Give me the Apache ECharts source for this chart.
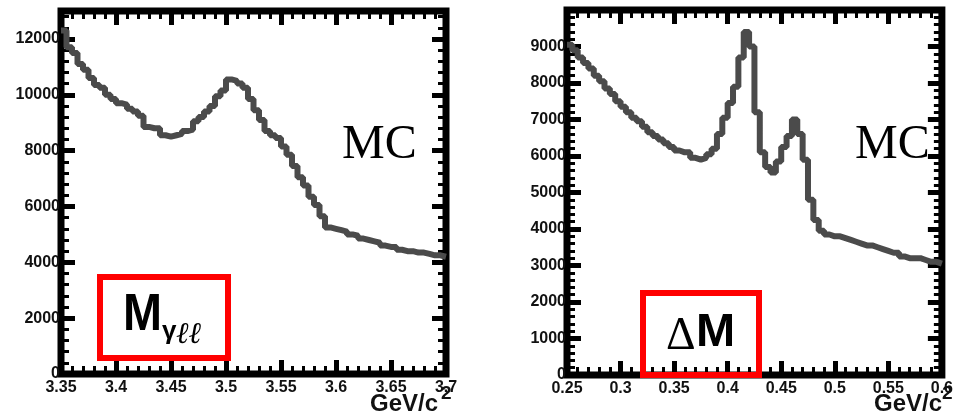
<!DOCTYPE html>
<html><head><meta charset="utf-8">
<script src="https://cdn.jsdelivr.net/npm/echarts@6/dist/echarts.min.js"></script>
<style>html,body{margin:0;padding:0;background:#fff}#c{width:956px;height:416px}</style>
</head><body><div id="c"></div>
<script>
// ---- data ----
const leftXStart = 3.35, leftXEnd = 3.70, leftBinWidth = 0.005;
const leftValues = [
  12300, 11700, 11500, 11100, 10900, 10600, 10350, 10250, 10000, 9850,
  9700, 9650, 9500, 9400, 9250, 8850, 8800, 8800, 8550, 8500,
  8550, 8600, 8700, 8750, 9050, 9200, 9400, 9600, 9950, 10150,
  10550, 10500, 10400, 10250, 9850, 9450, 9100, 8700, 8550, 8450,
  8150, 7850, 7450, 7050, 6750, 6350, 6050, 5650, 5250, 5200,
  5150, 5100, 5000, 4950, 4850, 4800, 4750, 4700, 4600, 4550,
  4550, 4450, 4400, 4400, 4350, 4350, 4300, 4250, 4250, 4200
];
const rightXStart = 0.25, rightXEnd = 0.60, rightBinWidth = 0.005;
const rightValues = [
  9050, 8900, 8700, 8550, 8400, 8200, 8050, 7850, 7700, 7500,
  7350, 7200, 7050, 6950, 6800, 6650, 6550, 6450, 6350, 6250,
  6150, 6100, 6100, 5950, 5900, 5950, 6050, 6200, 6600, 7050,
  7450, 7900, 8700, 9400, 9000, 7200, 6100, 5700, 5550, 5850,
  6250, 6550, 7000, 6600, 5900, 4800, 4250, 3950, 3850, 3800,
  3800, 3750, 3700, 3650, 3600, 3550, 3550, 3500, 3450, 3400,
  3350, 3350, 3250, 3200, 3200, 3200, 3150, 3100, 3100, 3050
];
const leftYMax = 13000, leftYStep = 2000, leftXStep = 0.05;
const rightYMax = 10000, rightYStep = 1000, rightXStep = 0.05;
const panelLabel = 'MC';
const leftBoxMain = 'M', leftBoxSub1 = 'γ', leftBoxSub2 = 'ℓℓ';
const rightBoxDelta = 'Δ', rightBoxMain = 'M';
const unitMain = 'GeV/c', unitSup = '2';

// ---- build ----
function histPoints(start, width, end, vals) {
  const pts = vals.map((v, i) => [+(start + i * width).toFixed(4), v]);
  pts.push([end, vals[vals.length - 1]]);
  return pts;
}
const FONT = 'Liberation Sans, Arial, sans-serif';
const lblStyle = { fontSize: 16, fontWeight: 'bold', fontFamily: FONT, color: '#111' };
const majorTick = { show: true, inside: true, length: 14, lineStyle: { width: 5, color: '#000' } };
const minorTick = { show: true, splitNumber: 5, length: 8, lineStyle: { width: 3, color: '#000' } };
function xAxisDef(gi, min, max, step, pos, showLabel) {
  return {
    type: 'value', gridIndex: gi, min, max, interval: step, position: pos,
    axisLine: { show: false, onZero: false },
    axisTick: majorTick, minorTick: minorTick,
    splitLine: { show: false },
    axisLabel: Object.assign({ show: showLabel, margin: 6,
      formatter: v => String(+v.toFixed(2)) }, lblStyle)
  };
}
function yAxisDef(gi, max, step, pos, showLabel) {
  return {
    type: 'value', gridIndex: gi, min: 0, max, interval: step, position: pos,
    axisLine: { show: false, onZero: false },
    axisTick: majorTick, minorTick: minorTick,
    splitLine: { show: false },
    axisLabel: Object.assign({ show: showLabel, margin: 1, showMaxLabel: false,
      formatter: v => String(Math.round(v)) }, lblStyle)
  };
}
const gridStyle = { show: true, borderWidth: 7, borderColor: '#000', backgroundColor: '#fff' };
const option = {
  animation: false,
  backgroundColor: '#fff',
  grid: [
    Object.assign({ left: 61, right: 510, top: 11, bottom: 42 }, gridStyle),
    Object.assign({ left: 567, right: 5, top: 10, bottom: 41 }, gridStyle)
  ],
  xAxis: [
    xAxisDef(0, leftXStart, leftXEnd, leftXStep, 'bottom', true),
    xAxisDef(0, leftXStart, leftXEnd, leftXStep, 'top', false),
    xAxisDef(1, rightXStart, rightXEnd, rightXStep, 'bottom', true),
    xAxisDef(1, rightXStart, rightXEnd, rightXStep, 'top', false)
  ],
  yAxis: [
    yAxisDef(0, leftYMax, leftYStep, 'left', true),
    yAxisDef(0, leftYMax, leftYStep, 'right', false),
    yAxisDef(1, rightYMax, rightYStep, 'left', true),
    yAxisDef(1, rightYMax, rightYStep, 'right', false)
  ],
  series: [
    { type: 'line', xAxisIndex: 0, yAxisIndex: 0, step: 'end', showSymbol: false,
      lineStyle: { color: '#4b4b4b', width: 6 }, z: 3,
      data: histPoints(leftXStart, leftBinWidth, leftXEnd, leftValues) },
    { type: 'line', xAxisIndex: 2, yAxisIndex: 2, step: 'end', showSymbol: false,
      lineStyle: { color: '#4b4b4b', width: 6 }, z: 3,
      data: histPoints(rightXStart, rightBinWidth, rightXEnd, rightValues) }
  ],
  graphic: [
    { type: 'text', x: 342, y: 121, z: 10, style: { text: panelLabel, font: '48px "Liberation Serif", "Times New Roman", serif', fill: '#000', textVerticalAlign: 'top' } },
    { type: 'text', x: 855, y: 121, z: 10, style: { text: panelLabel, font: '48px "Liberation Serif", "Times New Roman", serif', fill: '#000', textVerticalAlign: 'top' } },
    { type: 'text', x: 370, y: 392, z: 10, style: { text: unitMain, font: 'bold 24px ' + FONT, fill: '#111', textVerticalAlign: 'top' } },
    { type: 'text', x: 441, y: 384, z: 10, style: { text: unitSup, font: 'bold 19px ' + FONT, fill: '#111', textVerticalAlign: 'top' } },
    { type: 'text', x: 874, y: 392, z: 10, style: { text: unitMain, font: 'bold 24px ' + FONT, fill: '#111', textVerticalAlign: 'top' } },
    { type: 'text', x: 942, y: 384, z: 10, style: { text: unitSup, font: 'bold 19px ' + FONT, fill: '#111', textVerticalAlign: 'top' } },
    { type: 'rect', z: 11, shape: { x: 100, y: 277, width: 128, height: 81 }, style: { fill: 'none', stroke: '#f00', lineWidth: 6 } },
    { type: 'rect', z: 11, shape: { x: 643, y: 293, width: 116, height: 82 }, style: { fill: 'none', stroke: '#f00', lineWidth: 6 } },
    { type: 'text', x: 123, y: 290, scaleX: 0.9, z: 12, style: { text: leftBoxMain, font: 'bold 52px ' + FONT, fill: '#000', textVerticalAlign: 'top' } },
    { type: 'text', x: 162, y: 319, z: 12, style: { text: leftBoxSub1, font: 'bold 26px ' + FONT, fill: '#000', textVerticalAlign: 'top' } },
    { type: 'text', x: 176, y: 320, z: 12, style: { text: leftBoxSub2, font: 'italic 30px "DejaVu Serif", serif', fill: '#000', textVerticalAlign: 'top' } },
    { type: 'text', x: 666, y: 314, z: 12, style: { text: rightBoxDelta, font: '46px "Liberation Serif", serif', fill: '#000', textVerticalAlign: 'top' } },
    { type: 'text', x: 696, y: 310, z: 12, style: { text: rightBoxMain, font: 'bold 47px ' + FONT, fill: '#000', textVerticalAlign: 'top' } }
  ]
};
const chart = echarts.init(document.getElementById('c'), null, { renderer: 'canvas' });
chart.setOption(option);
</script>
</body></html>
